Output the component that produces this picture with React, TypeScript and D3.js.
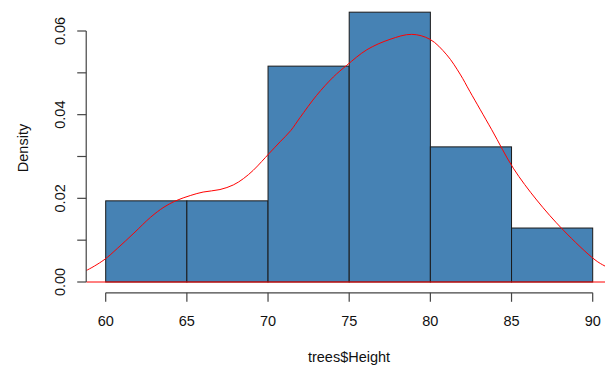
import React from 'react';
import * as d3 from 'd3';

// histogram breaks and bar heights (density)
const breaks = [60, 65, 70, 75, 80, 85, 90];
const densities = [0.0194, 0.0194, 0.0516, 0.0645, 0.0323, 0.0129];

// kernel density curve
const curveX = [58.5, 58.77, 59.9, 60.71, 61.74, 62.77, 63.59, 64.31, 65.24, 66.0, 67.04, 67.86, 68.48, 69.09, 69.61, 70.06, 70.74, 71.4, 71.97, 72.99, 74.02, 74.85, 76.08, 77.51, 78.85, 79.98, 81.01, 81.83, 82.44, 83.78, 85.11, 86.55, 88.19, 90.14, 90.76, 91.3];
const curveY = [0.0024, 0.0027, 0.0053, 0.008, 0.0117, 0.0155, 0.0179, 0.0194, 0.0207, 0.0215, 0.0221, 0.0232, 0.0247, 0.0267, 0.0288, 0.0307, 0.0335, 0.0362, 0.0393, 0.0446, 0.049, 0.0518, 0.0555, 0.058, 0.0592, 0.058, 0.0543, 0.0497, 0.0455, 0.0364, 0.0272, 0.0196, 0.0124, 0.0053, 0.0038, 0.0028];

const xTicks = [60, 65, 70, 75, 80, 85, 90];
const yTicks = [0, 0.01, 0.02, 0.03, 0.04, 0.05, 0.06];
const yLabels = ['0.00', '0.02', '0.04', '0.06'];

const W = 605;
const H = 367;
const font = 'Liberation Sans, Arial, sans-serif';

export default function App() {
  const x = d3.scaleLinear().domain([60, 90]).range([105.7, 592.7]);
  const y = d3.scaleLinear().domain([0, 0.06]).range([282, 31]);

  const plotL = x(58.8), plotR = x(91.2);
  const plotT = y(0.06709), plotB = y(-0.00258);

  const line = d3.line<number>()
    .x((d, i) => x(curveX[i]))
    .y(d => y(d))
    .curve(d3.curveCatmullRom);

  const tickLen = 9;
  const axisY = plotB;
  const axisX = plotL;

  return (
    <div style={{ position: 'absolute', left: 0, top: 0 }}>
      <svg width={W} height={H} style={{ display: 'block', background: '#fff' }}>
        <defs>
          <clipPath id="plot">
            <rect x={plotL} y={plotT} width={plotR - plotL} height={plotB - plotT} />
          </clipPath>
        </defs>

        {/* bars */}
        {densities.map((d, i) => (
          <rect key={i}
            x={x(breaks[i])} y={y(d)}
            width={x(breaks[i + 1]) - x(breaks[i])} height={y(0) - y(d)}
            fill="#4682B4" stroke="#1a1a1a" strokeWidth={1} />
        ))}

        {/* density line + baseline */}
        <g clipPath="url(#plot)">
          <line x1={plotL} x2={plotR} y1={y(0)} y2={y(0)} stroke="#ff0000" strokeWidth={1} />
          <path d={line(curveY) || ''} fill="none" stroke="#ff0000" strokeWidth={1} />
        </g>

        {/* x axis */}
        <g stroke="#444" strokeWidth={1.2}>
          <line x1={x(60)} x2={x(90)} y1={axisY} y2={axisY} />
          {xTicks.map(t => (
            <line key={t} x1={x(t)} x2={x(t)} y1={axisY} y2={axisY + tickLen} />
          ))}
        </g>
        {xTicks.map(t => (
          <text key={t} x={x(t)} y={326} textAnchor="middle" fontFamily={font} fontSize={14.5} fill="#111">{t}</text>
        ))}
        <text x={349} y={362} textAnchor="middle" fontFamily={font} fontSize={14.5} fill="#111">trees$Height</text>

        {/* y axis */}
        <g stroke="#444" strokeWidth={1.2}>
          <line x1={axisX} x2={axisX} y1={y(0)} y2={y(0.06)} />
          {yTicks.map(t => (
            <line key={t} x1={axisX - tickLen} x2={axisX} y1={y(t)} y2={y(t)} />
          ))}
        </g>
        {yLabels.map(l => (
          <text key={l} transform={`translate(65,${y(+l)}) rotate(-90)`} textAnchor="middle"
            fontFamily={font} fontSize={14.5} fill="#111">{l}</text>
        ))}
        <text transform={`translate(28,148) rotate(-90)`} textAnchor="middle"
          fontFamily={font} fontSize={14.5} fill="#111">Density</text>
      </svg>
    </div>
  );
}
